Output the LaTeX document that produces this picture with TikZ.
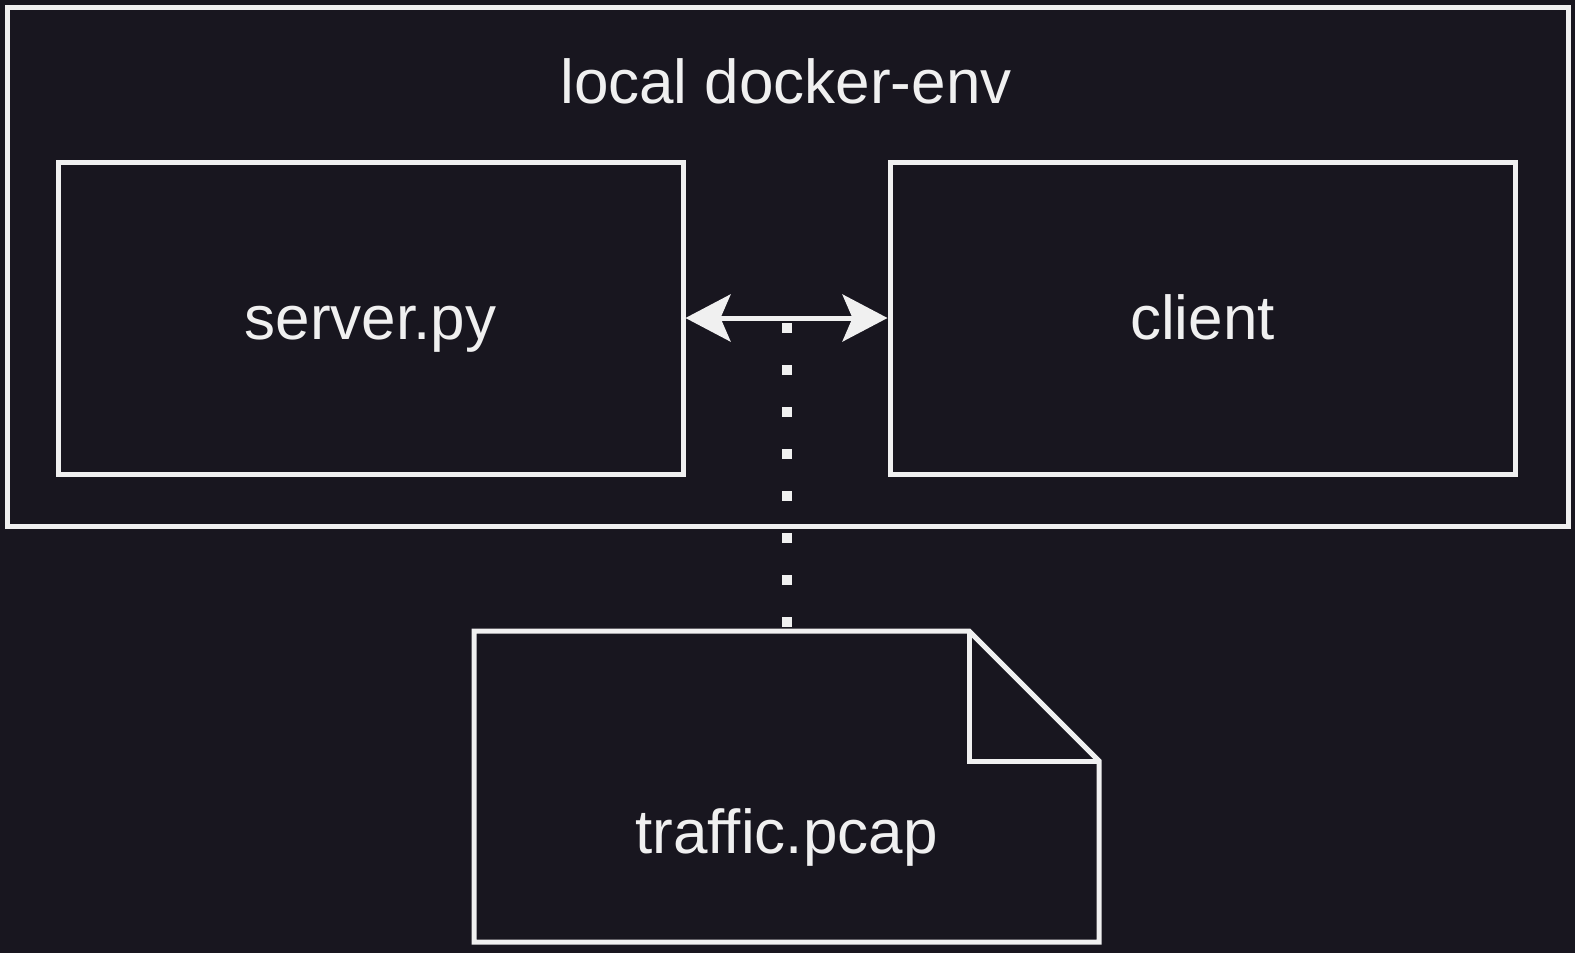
\documentclass[tikz,border=0pt]{standalone}
\usepackage{fontspec}
\setmainfont{Liberation Sans}
\usetikzlibrary{arrows.meta}
\definecolor{bgdark}{HTML}{18161F}
\definecolor{linelight}{HTML}{F0F0F0}

\begin{document}
\begin{tikzpicture}[x=0.5pt, y=-0.5pt, line width=2.5pt,
    box/.style={draw=linelight, minimum width=312.5pt, minimum height=156pt, inner sep=0pt},
    lbl/.style={text=linelight, font=\fontsize{31}{37}\selectfont, text height=25pt, text depth=4pt},
    tip/.tip={Stealth[length=22.5pt, width=23.5pt, inset=5pt]}]
    \fill[bgdark] (0,0) rectangle (1575,953);
    \node[draw=linelight, minimum width=780.5pt, minimum height=259.5pt, inner sep=0pt] (env) at (787.5,266.5) {};
    \node[lbl] (envtitle) at (786,82) {local docker-env};

    \node[box, lbl] (server) at (370.5,318) {server.py};
    \node[box, lbl] (client) at (1202.5,318) {client};
    \draw[linelight, tip-tip] (server) -- (client);

    % capture file
    \node[minimum width=312.5pt, minimum height=155.5pt, inner sep=0pt, outer sep=0pt] (pcap) at (786.5,786.5) {};
    \draw[linelight] (pcap.north west) -- ([xshift=-65pt]pcap.north east) -- ([yshift=-65pt]pcap.north east)
        -- (pcap.south east) -- (pcap.south west) -- cycle;
    \draw[linelight] ([xshift=-65pt]pcap.north east) |- ([yshift=-65pt]pcap.north east);
    \node[lbl] (pcaptext) at (786.5,832) {traffic.pcap};

    \coordinate (tap) at (786.5,323);
    \draw[linelight, line width=5pt, dash pattern=on 5pt off 16pt] (tap) -- (pcap.north);
\end{tikzpicture}
\end{document}
